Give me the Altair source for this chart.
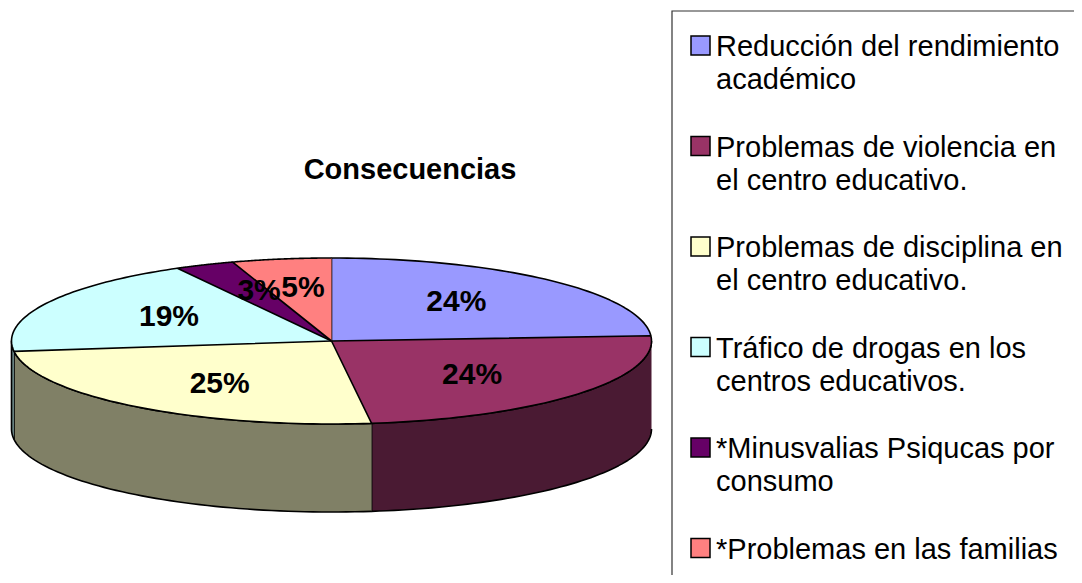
import altair as alt
import pandas as pd

# ---- data ----
categories = [
    "Reducción del rendimiento académico",
    "Problemas de violencia en el centro educativo.",
    "Problemas de disciplina en el centro educativo.",
    "Tráfico de drogas en los centros educativos.",
    "*Minusvalias Psiqucas por consumo",
    "*Problemas en las familias",
]
values = [24, 24, 25, 19, 3, 5]
legend_labels = [
    "Reducción del rendimiento\nacadémico",
    "Problemas de violencia en\nel centro educativo.",
    "Problemas de disciplina en\nel centro educativo.",
    "Tráfico de drogas en los\ncentros educativos.",
    "*Minusvalias Psiqucas por\nconsumo",
    "*Problemas en las familias",
]
title_text = "Consecuencias"

# ---- styles ----
top_colors = ["#9999FF", "#993366", "#FFFFCC", "#CCFFFF", "#660066", "#FF8080"]
side_colors = ["#4D4D80", "#4A1A33", "#808066", "#668080", "#330033", "#804040"]
FONT = "Liberation Sans"

W, H = 1066, 567
CX, CY, RX, RY, DEPTH = 323.5, 333.0, 320.0, 83.0, 88.0
N = 60
FX, FY = 0.57, 0.65
LEG_STEP = 100.5

df = pd.DataFrame({
    "cat": categories,
    "value": values,
    "idx": list(range(len(categories))),
    "legend": legend_labels,
})

xs = alt.Scale(domain=[0, W], nice=False, zero=False)
ys = alt.Scale(domain=[0, H], nice=False, zero=False, reverse=True)

base = (
    alt.Chart(df)
    .transform_window(cum="sum(value)", sort=[alt.SortField("idx")], frame=[None, 0])
    .transform_joinaggregate(total="sum(value)")
    .transform_calculate(a1="2*PI*(datum.cum-datum.value)/datum.total")
    .transform_calculate(a2="2*PI*datum.cum/datum.total")
)

side = (
    base.transform_calculate(s1="max(datum.a1, PI/2)")
    .transform_calculate(s2="min(datum.a2, 3*PI/2)")
    .transform_filter("datum.s2 > datum.s1")
    .transform_calculate(k=f"sequence(0, {2 * N + 2})")
    .transform_flatten(["k"])
    .transform_calculate(j=f"datum.k <= {N} ? datum.k : {2 * N + 1} - datum.k")
    .transform_calculate(t=f"datum.s1 + (datum.s2 - datum.s1) * datum.j / {N}")
    .transform_calculate(px=f"{CX} + {RX} * sin(datum.t)")
    .transform_calculate(py=f"{CY} - {RY} * cos(datum.t) + (datum.k <= {N} ? 0 : {DEPTH})")
    .mark_line(stroke="black", strokeWidth=1.6, strokeJoin="round")
    .encode(
        x=alt.X("px:Q", scale=xs, axis=None),
        y=alt.Y("py:Q", scale=ys, axis=None),
        order=alt.Order("k:Q"),
        detail="cat:N",
        fill=alt.Fill("cat:N", scale=alt.Scale(domain=categories, range=side_colors), legend=None),
    )
)

top = (
    base.transform_calculate(k=f"sequence(-1, {N + 1})")
    .transform_flatten(["k"])
    .transform_calculate(t=f"datum.a1 + (datum.a2 - datum.a1) * max(datum.k, 0) / {N}")
    .transform_calculate(px=f"datum.k < 0 ? {CX} : {CX} + {RX} * sin(datum.t)")
    .transform_calculate(py=f"datum.k < 0 ? {CY} : {CY} - {RY} * cos(datum.t)")
    .mark_line(stroke="black", strokeWidth=1.6, strokeJoin="round")
    .encode(
        x=alt.X("px:Q", scale=xs, axis=None),
        y=alt.Y("py:Q", scale=ys, axis=None),
        order=alt.Order("k:Q"),
        detail="cat:N",
        fill=alt.Fill("cat:N", scale=alt.Scale(domain=categories, range=top_colors), legend=None),
    )
)

labels = (
    base.transform_calculate(mid="(datum.a1 + datum.a2) / 2")
    .transform_calculate(lx=f"{CX} + {RX * FX} * sin(datum.mid)")
    .transform_calculate(ly=f"{CY} - {RY * FY} * cos(datum.mid)")
    .transform_calculate(txt="round(100 * datum.value / datum.total) + '%'")
    .mark_text(font=FONT, fontSize=30, fontWeight="bold", align="center", baseline="middle", color="black")
    .encode(
        x=alt.X("lx:Q", scale=xs, axis=None),
        y=alt.Y("ly:Q", scale=ys, axis=None),
        text="txt:N",
    )
)

box = (
    alt.Chart(pd.DataFrame({"box": [1]}))
    .mark_rect(fill="transparent", stroke="#333333", strokeWidth=1.2)
    .encode(x=alt.value(664), x2=alt.value(1400), y=alt.value(3), y2=alt.value(1200))
)

leg_sw = (
    alt.Chart(df)
    .transform_calculate(sx="692.5", sy=f"37.5 + datum.idx * {LEG_STEP}")
    .mark_square(size=361, stroke="black", strokeWidth=1.5, opacity=1)
    .encode(
        x=alt.X("sx:Q", scale=xs, axis=None),
        y=alt.Y("sy:Q", scale=ys, axis=None),
        fill=alt.Fill("cat:N", scale=alt.Scale(domain=categories, range=top_colors), legend=None),
    )
)

leg_txt = (
    alt.Chart(df)
    .transform_calculate(tx="708", ty=f"48 + datum.idx * {LEG_STEP}")
    .mark_text(font=FONT, fontSize=29, align="left", baseline="alphabetic", lineBreak="\n", lineHeight=33, color="black")
    .encode(
        x=alt.X("tx:Q", scale=xs, axis=None),
        y=alt.Y("ty:Q", scale=ys, axis=None),
        text="legend:N",
    )
)

chart = (
    alt.layer(side, top, labels, box, leg_sw, leg_txt)
    .resolve_scale(fill="independent")
    .properties(
        width=W,
        height=H,
        padding=0,
        autosize=alt.AutoSizeParams(type="none"),
        title=alt.Title(
            title_text,
            anchor="middle",
            dx=-131,
            dy=200,
            offset=0,
            baseline="alphabetic",
            font=FONT,
            fontSize=29,
            fontWeight="bold",
            color="black",
        ),
    )
    .configure_view(stroke=None)
)

chart.save("out.html", embed_options={"renderer": "svg", "actions": False})
